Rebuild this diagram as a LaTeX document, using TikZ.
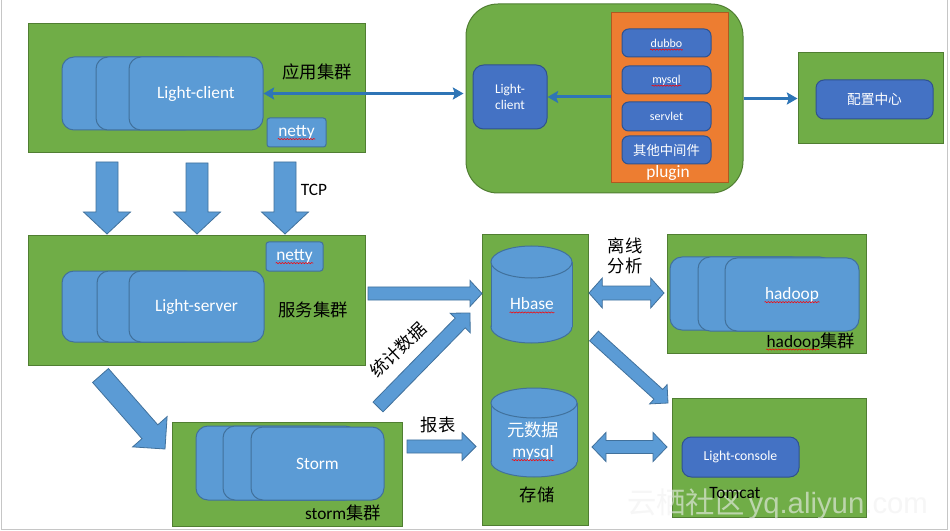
\documentclass[tikz,border=0pt]{standalone}
\usepackage{fontspec}
\setmainfont{Carlito}
\newfontfamily\cjk{Noto Sans CJK SC}
\newfontfamily\wmfont{Liberation Sans}
\usetikzlibrary{arrows.meta,fit,calc,decorations.pathmorphing}
\definecolor{gF}{HTML}{70AD47}
\definecolor{gD}{HTML}{507E32}
\definecolor{bF}{HTML}{5B9BD5}
\definecolor{bD}{HTML}{41719C}
\definecolor{dF}{HTML}{4472C4}
\definecolor{dD}{HTML}{2F528F}
\definecolor{oF}{HTML}{ED7D31}
\definecolor{oD}{HTML}{AE5A21}
\definecolor{aL}{HTML}{2E75B6}
% block arrow: from, to, shaft half width, head half width, head length
\newcommand\blk[5]{%
  \coordinate (bkN) at ($(#2)!#5!(#1)$);
  \filldraw[barrow] ($(#1)!#3!90:(#2)$) -- ($(bkN)!#3!-90:(#1)$) -- ($(bkN)!#4!-90:(#1)$)
    -- (#2) -- ($(bkN)!#4!90:(#1)$) -- ($(bkN)!#3!90:(#1)$) -- ($(#1)!#3!-90:(#2)$) -- cycle;}
\newcommand\dblk[5]{%
  \coordinate (bkA) at ($(#1)!#5!(#2)$);
  \coordinate (bkB) at ($(#2)!#5!(#1)$);
  \filldraw[barrow] (#1) -- ($(bkA)!#4!90:(#2)$) -- ($(bkA)!#3!90:(#2)$) -- ($(bkB)!#3!-90:(#1)$)
    -- ($(bkB)!#4!-90:(#1)$) -- (#2) -- ($(bkB)!#4!90:(#1)$) -- ($(bkB)!#3!90:(#1)$)
    -- ($(bkA)!#3!-90:(#2)$) -- ($(bkA)!#4!-90:(#2)$) -- cycle;}
% cylinder: cx, top, bottom, rx, ry
\newcommand\cyl[5]{%
  \filldraw[cylst] ({#1},{#3-#5}) ellipse [x radius=#4, y radius=#5];
  \fill[bF] ({#1-#4},{#2+#5}) rectangle ({#1+#4},{#3-#5});
  \draw[bD,line width=0.75pt] ({#1-#4},{#2+#5}) -- ({#1-#4},{#3-#5}) ({#1+#4},{#2+#5}) -- ({#1+#4},{#3-#5});
  \filldraw[cylst] ({#1},{#2+#5}) ellipse [x radius=#4, y radius=#5];}
\newcommand\sqg[1]{\draw[sq] ($(#1.base west)+(1,2.5)$) -- ($(#1.base east)+(-1,2.5)$);}
\begin{document}
\begin{tikzpicture}[x=0.75pt,y=-0.75pt,
  grn/.style={draw=gD,fill=gF,line width=0.75pt,inner sep=0pt},
  bbox/.style={draw=bD,fill=bF,line width=0.75pt,inner sep=0pt,rounded corners=9pt},
  dbox/.style={draw=dD,fill=dF,line width=0.75pt,inner sep=0pt,rounded corners=#1},
  dbox/.default=5pt,
  barrow/.style={fill=bF,draw=bD,line width=0.6pt},
  cylst/.style={fill=bF,draw=bD,line width=0.75pt},
  thinarr/.style={draw=aL,line width=2.25pt},
  wt/.style={text=white,inner sep=1pt,font=\fontsize{13}{15}\selectfont},
  wts/.style={text=white,inner sep=1pt,font=\fontsize{9}{11}\selectfont},
  bt/.style={text=black,inner sep=1pt,font=\fontsize{13}{15}\selectfont},
  cj/.style={font=\fontsize{13}{15}\selectfont\cjk},
  sq/.style={draw=red,line width=0.4pt,decorate,decoration={snake,amplitude=0.45pt,segment length=2.2pt}}
]
\useasboundingbox (0,0) rectangle (950,531);
\fill[white] (0,0) rectangle (950,531);
\draw[gray!45,line width=0.75pt] (1.5,0) -- (1.5,529) -- (947,529) -- (947,0);

% ---------- application cluster ----------
\node[grn, fit={(28,24)(365,153)}] (app) {};
\draw[bbox] (62,57) rectangle (196,130);
\draw[bbox] (96,57) rectangle (230,130);
\node[bbox, fit={(129,57)(263,130)}] (lc) {};
\node[wt] (lct) at (lc.center) {Light-client};
\node[bbox, rounded corners=2pt, fit={(267,118)(326,147)}] (nt1) {};
\node[wt] (nt1t) at (nt1.center) {netty};
\sqg{nt1t}
\node[bt, cj] (appl) at (317,72) {应用集群};

% ---------- TCP arrows ----------
\coordinate (a1s) at (107,162); \coordinate (a1e) at (107,234);
\coordinate (a2s) at (197,163); \coordinate (a2e) at (197,234);
\coordinate (a3s) at (285,162); \coordinate (a3e) at (285,234);
\blk{a1s}{a1e}{8.25pt}{17.6pt}{16.5pt}
\blk{a2s}{a2e}{8.25pt}{17.6pt}{16.5pt}
\blk{a3s}{a3e}{8.25pt}{17.6pt}{16.5pt}
\node[bt] (tcp) at (314,190) {TCP};

% ---------- server cluster ----------
\node[grn, fit={(28,236)(365,365)}] (srv) {};
\draw[bbox] (62,271) rectangle (197,342);
\draw[bbox] (97,271) rectangle (231,342);
\node[bbox, fit={(129,271)(264,342)}] (ls) {};
\node[wt] (lst) at (ls.center) {Light-server};
\node[bbox, rounded corners=2pt, fit={(266,242)(323,271)}] (nt2) {};
\node[wt] (nt2t) at (nt2.center) {netty};
\sqg{nt2t}
\node[bt, cj] (srvl) at (313,310) {服务集群};

% ---------- storm cluster ----------
\node[grn, fit={(172,422)(402,526)}] (stm) {};
\draw[bbox] (196,426) rectangle (330,500);
\draw[bbox] (223,426) rectangle (357,500);
\node[bbox, fit={(251,427)(384,500)}] (st) {};
\node[wt] (stt) at (st.center) {Storm};
\node[bt] (stml) at (343,513) {storm{\cjk 集群}};

% ---------- storage ----------
\node[grn, fit={(482,235)(588,525)}] (sto) {};
\cyl{531.5}{246}{343}{40.5}{16}
\node[wt] (hb) at (532,304) {Hbase};
\sqg{hb}
\cyl{534}{388}{477}{43}{15}
\node[wt, cj] (yuan) at (533,430) {元数据};
\node[wt] (my2) at (533,453) {mysql};
\sqg{my2}
\node[bt, cj] (stol) at (537,495) {存储};

% ---------- hadoop ----------
\node[grn, fit={(667,235)(866,353)}] (hdp) {};
\draw[bbox] (670,257) rectangle (804,330);
\draw[bbox] (698,257) rectangle (832,331);
\node[bbox, fit={(725,258)(859,331)}] (hd) {};
\node[wt] (hdt) at (792,295) {hadoop};
\sqg{hdt}
\node[bt, anchor=base west] (hdl) at (765,347) {hadoop{\cjk 集群}};
\draw[sq] ($(hdl.base west)+(1,2.5)$) -- ++(53,0);
\node[bt, cj] (lx1) at (625,246) {离线};
\node[bt, cj] (lx2) at (625,266) {分析};

% ---------- tomcat ----------
\node[grn, fit={(672,398)(866,517)}] (tom) {};
\node[dbox=7pt, fit={(682,437)(799,477)}] (lcon) {};
\node[wt, font=\fontsize{10.3}{12}\selectfont] (lcont) at (lcon.center) {Light-console};

% ---------- plugin area ----------
\node[grn, rounded corners=24pt, fit={(466,4)(743,193)}] (plg) {};
\node[fill=oF, draw=oD, line width=0.75pt, inner sep=0pt, fit={(611,13)(728,183)}] (org) {};
\node[dbox, fit={(622,29)(711,57)}] (p1) {};
\node[wts] (p1t) at (p1.center) {dubbo};
\sqg{p1t}
\node[dbox, fit={(622,66)(711,94)}] (p2) {};
\node[wts] (p2t) at (p2.center) {mysql};
\sqg{p2t}
\node[dbox, fit={(622,102)(711,131)}] (p3) {};
\node[wts] (p3t) at (p3.center) {servlet};
\node[dbox, fit={(622,136)(711,164)}] (p4) {};
\node[wts, font=\fontsize{10}{12}\selectfont\cjk] (p4t) at (p4.center) {其他中间件};
\node[wt] (plgt) at (668,173) {plugin};
\node[dbox=8pt, fit={(473,65)(547,129)}] (slc) {};
\node[wt, align=center, font=\fontsize{10}{11.5}\selectfont] (slct) at (slc.center) {Light-\\client};

% ---------- config center ----------
\node[grn, fit={(798,53)(943,144)}] (cfg) {};
\node[dbox=6pt, fit={(816,80)(933,119)}] (cfgi) {};
\node[wt, font=\fontsize{10.3}{12}\selectfont\cjk] (cfgt) at (cfgi.center) {配置中心};

% ---------- thin arrows ----------
\draw[thinarr, {Stealth[length=8pt,width=9pt,inset=1.5pt]}-{Stealth[length=8pt,width=9pt,inset=1.5pt]}] (lc.east) -- ($(lc.east -| plg.west)+(-2,0)$);
\draw[thinarr, -{Stealth[length=8pt,width=9pt,inset=1.5pt]}] (org.west |- slc.east) -- (slc.east);
\draw[thinarr, -{Stealth[length=8pt,width=9pt,inset=1.5pt]}] (plg.east |- cfg.west) -- (cfg.west);

% ---------- block arrows ----------
\coordinate (h1s) at (368,293.5); \coordinate (h1e) at (482,293.5);
\blk{h1s}{h1e}{4.9pt}{9.75pt}{9pt}
\coordinate (d1s) at (378,407); \coordinate (d1e) at (470,313);
\blk{d1s}{d1e}{5.25pt}{10.5pt}{10.5pt}
\node[bt, cj, rotate=44] (tj) at (398,350) {统计数据};
\coordinate (d2s) at (100.5,375.5); \coordinate (d2e) at (165,449);
\blk{d2s}{d2e}{7.9pt}{17.2pt}{17.2pt}
\coordinate (r1s) at (407,446.5); \coordinate (r1e) at (476,446.5);
\blk{r1s}{r1e}{4.9pt}{10.5pt}{10.5pt}
\node[bt, cj] (bb) at (438,425) {报表};
\coordinate (d3s) at (594,336); \coordinate (d3e) at (668,403);
\blk{d3s}{d3e}{4.9pt}{9.75pt}{9.75pt}
\coordinate (x1s) at (589,293); \coordinate (x1e) at (664,293);
\dblk{x1s}{x1e}{5.25pt}{11.25pt}{10pt}
\coordinate (x2s) at (592,447); \coordinate (x2e) at (667,447);
\dblk{x2s}{x2e}{4.9pt}{10.9pt}{10.5pt}

% ---------- watermark ----------
\node[anchor=base west, inner sep=0pt, text=white!88!gray, opacity=0.6, font=\fontsize{22}{24}\selectfont] (wm) at (627,513) {{\cjk 云栖社区}\hspace{3pt}{\wmfont yq.aliyun.com}};
\node[bt] (toml) at (735,493) {Tomcat};
\end{tikzpicture}
\end{document}
